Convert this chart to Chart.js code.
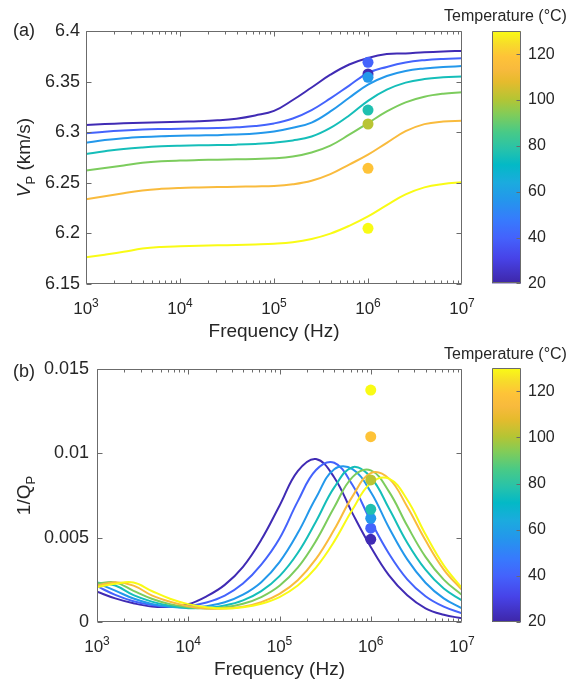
<!DOCTYPE html>
<html>
<head>
<meta charset="utf-8">
<script src="https://cdn.jsdelivr.net/npm/chart.js@4.4.1/dist/chart.umd.min.js"></script>
<style>
body { margin: 0; background: #fff; }
#wrap { position: relative; width: 571px; height: 685px; overflow: hidden; }
canvas { position: absolute; }
</style>
</head>
<body>
<div id="wrap">
  <canvas id="vpChart" width="480" height="345" style="left:0;top:0"></canvas>
  <canvas id="vpBar" width="131" height="300" style="left:440px;top:0"></canvas>
  <canvas id="qChart" width="480" height="345" style="left:0;top:340px"></canvas>
  <canvas id="qBar" width="131" height="300" style="left:440px;top:340px"></canvas>
</div>
<script>
// frequencies shared by all model curves (Hz)
const freqHz = [1000, 1585, 2512, 3981, 6310, 10000, 15849, 25119, 39811, 63096, 100000,
  158489, 251189, 398107, 630957, 1000000, 1584893, 2511886, 3981072, 6309573, 10000000];
const lineTempsC = [22, 40, 57, 75, 93, 114, 130];

// P-wave velocity (km/s)
const vp22 = [6.3071, 6.3080, 6.3088, 6.3094, 6.3099, 6.3104, 6.3108, 6.3117, 6.3134, 6.3166, 6.3210, 6.3318, 6.3442, 6.3568, 6.3669, 6.3734, 6.3772, 6.3778, 6.3790, 6.3798, 6.3803];
const vp40 = [6.2989, 6.3005, 6.3017, 6.3026, 6.3031, 6.3034, 6.3038, 6.3041, 6.3048, 6.3061, 6.3087, 6.3135, 6.3218, 6.3334, 6.3461, 6.3585, 6.3645, 6.3689, 6.3712, 6.3724, 6.3730];
const vp57 = [6.2896, 6.2922, 6.2940, 6.2952, 6.2960, 6.2965, 6.2968, 6.2971, 6.2978, 6.2987, 6.3007, 6.3044, 6.3095, 6.3205, 6.3340, 6.3470, 6.3555, 6.3605, 6.3630, 6.3645, 6.3653];
const vp75 = [6.2785, 6.2812, 6.2835, 6.2850, 6.2860, 6.2866, 6.2870, 6.2873, 6.2877, 6.2884, 6.2896, 6.2918, 6.2957, 6.3042, 6.3165, 6.3310, 6.3420, 6.3490, 6.3525, 6.3542, 6.3550];
const vp93 = [6.2622, 6.2646, 6.2672, 6.2697, 6.2712, 6.2720, 6.2725, 6.2729, 6.2732, 6.2736, 6.2742, 6.2760, 6.2800, 6.2868, 6.2975, 6.3090, 6.3205, 6.3295, 6.3350, 6.3380, 6.3395];
const vp114 = [6.2338, 6.2366, 6.2396, 6.2424, 6.2440, 6.2449, 6.2454, 6.2458, 6.2461, 6.2464, 6.2468, 6.2485, 6.2520, 6.2585, 6.2680, 6.2778, 6.2895, 6.3010, 6.3080, 6.3105, 6.3113];
const vp130 = [6.1764, 6.1790, 6.1818, 6.1850, 6.1866, 6.1873, 6.1878, 6.1882, 6.1886, 6.1891, 6.1898, 6.1913, 6.1945, 6.1998, 6.2075, 6.2168, 6.2280, 6.2385, 6.2455, 6.2488, 6.2505];

// attenuation 1/Qp
const q22 = [0.00180, 0.00140, 0.00111, 0.00092, 0.00090, 0.00105, 0.00152, 0.00220, 0.00327, 0.00487, 0.00689, 0.00894, 0.00966, 0.00857, 0.00644, 0.00445, 0.00276, 0.00158, 0.00081, 0.00043, 0.00022];
const q40 = [0.00212, 0.00161, 0.00123, 0.00100, 0.00090, 0.00095, 0.00116, 0.00157, 0.00228, 0.00340, 0.00495, 0.00715, 0.00901, 0.00944, 0.00812, 0.00599, 0.00405, 0.00253, 0.00153, 0.00091, 0.00052];
const q57 = [0.00230, 0.00186, 0.00139, 0.00107, 0.00090, 0.00084, 0.00093, 0.00117, 0.00162, 0.00236, 0.00355, 0.00527, 0.00736, 0.00906, 0.00906, 0.00771, 0.00559, 0.00371, 0.00233, 0.00140, 0.00081];
const q75 = [0.00235, 0.00216, 0.00159, 0.00121, 0.00096, 0.00082, 0.00084, 0.00098, 0.00128, 0.00183, 0.00272, 0.00409, 0.00596, 0.00798, 0.00918, 0.00858, 0.00673, 0.00470, 0.00310, 0.00198, 0.00128];
const q93 = [0.00228, 0.00235, 0.00185, 0.00138, 0.00106, 0.00087, 0.00080, 0.00087, 0.00108, 0.00148, 0.00215, 0.00322, 0.00481, 0.00680, 0.00859, 0.00899, 0.00773, 0.00570, 0.00386, 0.00251, 0.00160];
const q114 = [0.00216, 0.00236, 0.00216, 0.00158, 0.00120, 0.00094, 0.00080, 0.00080, 0.00091, 0.00118, 0.00167, 0.00248, 0.00374, 0.00548, 0.00745, 0.00883, 0.00850, 0.00683, 0.00484, 0.00311, 0.00190];
const q130 = [0.00206, 0.00227, 0.00234, 0.00184, 0.00138, 0.00106, 0.00087, 0.00080, 0.00087, 0.00108, 0.00148, 0.00216, 0.00323, 0.00478, 0.00667, 0.00824, 0.00850, 0.00725, 0.00520, 0.00336, 0.00201];

// measured points at 1 MHz
const dotFreqHz = 1000000;
const dotTempsC = [22, 40, 57, 77, 101, 119, 130];
const vpDots = [6.3575, 6.3691, 6.3542, 6.3219, 6.3081, 6.2643, 6.2050];
const qDots = [0.00490, 0.00556, 0.00615, 0.00668, 0.00842, 0.01099, 0.01375];

// ticks
const freqTicks = [1e3, 1e4, 1e5, 1e6, 1e7];
const vpTicks = [6.15, 6.2, 6.25, 6.3, 6.35, 6.4];
const qTicks = [0, 0.005, 0.01, 0.015];
const tempTicks = [20, 40, 60, 80, 100, 120];
const tempRange = [20, 130];

const fam = '"Liberation Sans", Arial, Helvetica, sans-serif';
Chart.defaults.font.family = fam;
Chart.defaults.color = '#262626';

const parulaStops = [
  [0.00, [62, 38, 168]], [0.10, [71, 67, 232]], [0.18, [68, 98, 252]], [0.25, [55, 122, 253]],
  [0.33, [36, 150, 236]], [0.40, [27, 171, 222]], [0.47, [3, 185, 198]], [0.53, [38, 194, 171]],
  [0.60, [72, 202, 135]], [0.67, [129, 204, 89]], [0.73, [180, 197, 52]], [0.80, [230, 187, 45]],
  [0.85, [248, 186, 61]], [0.90, [254, 195, 56]], [0.95, [247, 220, 42]], [1.00, [249, 251, 21]]
];

function parula(tempC) {
  const t = Math.min(1, Math.max(0, (tempC - tempRange[0]) / (tempRange[1] - tempRange[0])));
  for (let i = 1; i < parulaStops.length; i++) {
    const [t1, c1] = parulaStops[i];
    if (t <= t1) {
      const [t0, c0] = parulaStops[i - 1];
      const f = (t - t0) / (t1 - t0);
      const c = c0.map((v, k) => Math.round(v + (c1[k] - v) * f));
      return `rgb(${c[0]},${c[1]},${c[2]})`;
    }
  }
  return 'rgb(249,251,21)';
}

function parulaFill(chart) {
  if (!chart.chartArea) return 'transparent';
  const y = chart.scales.y;
  const g = chart.ctx.createLinearGradient(0, y.getPixelForValue(tempRange[0]), 0, y.getPixelForValue(tempRange[1]));
  parulaStops.forEach(([t, c]) => g.addColorStop(t, `rgb(${c.join(',')})`));
  return g;
}

// matlab style box with inward ticks
const boxAxes = {
  id: 'boxAxes',
  afterDatasetsDraw(chart, args, opts) {
    const { ctx, chartArea: a, scales } = chart;
    const L = Math.round(a.left) + 0.5, R = Math.round(a.right) - 0.5;
    const T = Math.round(a.top) + 0.5, B = Math.round(a.bottom) - 0.5;
    ctx.save();
    ctx.strokeStyle = '#6b6b6b';
    ctx.lineWidth = 1;
    ctx.beginPath();
    ctx.rect(L, T, R - L, B - T);
    if (opts.logX) {
      freqTicks.slice(0, -1).forEach(d => {
        for (let k = 1; k <= 9; k++) {
          const x = Math.round(scales.x.getPixelForValue(k * d)) + 0.5;
          const len = k === 1 ? 5 : 3;
          ctx.moveTo(x, B); ctx.lineTo(x, B - len);
          ctx.moveTo(x, T); ctx.lineTo(x, T + len);
        }
      });
    }
    scales.y.ticks.forEach(t => {
      const y = Math.round(scales.y.getPixelForValue(t.value)) + 0.5;
      if (opts.leftTicks) { ctx.moveTo(L, y); ctx.lineTo(L + 5, y); }
      ctx.moveTo(R, y); ctx.lineTo(R - (opts.leftTicks ? 5 : 4), y);
    });
    ctx.stroke();
    ctx.restore();
  }
};

// panel letter, 10^n tick labels and y title with subscript
const axisText = {
  id: 'axisText',
  afterDraw(chart, args, o) {
    if (!o.panel) return;
    const { ctx, chartArea: a, scales } = chart;
    ctx.save();
    ctx.fillStyle = '#262626';
    ctx.font = '18px ' + fam;
    ctx.textBaseline = 'middle';
    ctx.textAlign = 'left';
    ctx.fillText(o.panel, 13, o.panelY);

    ctx.textBaseline = 'alphabetic';
    const base = a.bottom + 29.5;
    freqTicks.forEach(v => {
      const exp = String(Math.round(Math.log10(v)));
      ctx.font = '17px ' + fam; const wb = ctx.measureText('10').width;
      ctx.font = '12px ' + fam; const we = ctx.measureText(exp).width;
      const x0 = scales.x.getPixelForValue(v) - (wb + we) / 2;
      ctx.font = '17px ' + fam; ctx.fillText('10', x0, base);
      ctx.font = '12px ' + fam; ctx.fillText(exp, x0 + wb, base - 7);
    });

    ctx.translate(o.titleX, o.titleY);
    ctx.rotate(-Math.PI / 2);
    const big = (o.italic ? 'italic ' : '') + '19px ' + fam;
    const plain = '19px ' + fam;
    const small = '13px ' + fam;
    ctx.font = big; const w1 = ctx.measureText(o.main).width;
    ctx.font = small; const w2 = ctx.measureText(o.sub).width;
    ctx.font = plain; const w3 = ctx.measureText(o.rest).width;
    let x = -(w1 + w2 + w3) / 2;
    ctx.font = big; ctx.fillText(o.main, x, 7); x += w1;
    ctx.font = small; ctx.fillText(o.sub, x, 12); x += w2;
    ctx.font = plain; ctx.fillText(o.rest, x, 7);
    ctx.restore();
  }
};

Chart.register(boxAxes, axisText);

function freqChart(id, series, dots, yTicks, yWidth, yPad, topPad, xHeight, titlePad, text) {
  const datasets = series.map((vals, i) => ({
    data: vals.map((v, j) => ({ x: freqHz[j], y: v })),
    borderColor: parula(lineTempsC[i]),
    borderWidth: 2,
    pointRadius: 0,
    tension: 0.4,
    fill: false,
    order: 10 - i
  }));
  datasets.push({
    type: 'scatter',
    data: dots.map(v => ({ x: dotFreqHz, y: v })),
    backgroundColor: dotTempsC.map(parula),
    pointBackgroundColor: dotTempsC.map(parula),
    borderWidth: 0,
    pointBorderWidth: 0,
    pointRadius: 5.5,
    order: 0
  });
  return new Chart(document.getElementById(id), {
    type: 'line',
    data: { datasets },
    options: {
      responsive: false,
      animation: false,
      events: [],
      layout: { padding: { top: topPad, right: 18, left: 0, bottom: 0 } },
      plugins: {
        legend: { display: false },
        tooltip: { enabled: false },
        boxAxes: { logX: true, leftTicks: true },
        axisText: text
      },
      scales: {
        x: {
          type: 'logarithmic',
          min: freqTicks[0],
          max: freqTicks[freqTicks.length - 1],
          afterBuildTicks: s => { s.ticks = freqTicks.map(v => ({ value: v })); },
          afterFit: s => { s.height = xHeight; },
          ticks: { display: false },
          grid: { display: false, drawTicks: false },
          border: { display: false },
          title: { display: true, text: 'Frequency (Hz)', font: { size: 19, lineHeight: 1 }, padding: { top: 0, bottom: titlePad } }
        },
        y: {
          min: yTicks[0],
          max: yTicks[yTicks.length - 1],
          afterBuildTicks: s => { s.ticks = yTicks.map(v => ({ value: v })); },
          afterFit: s => { s.width = yWidth; },
          ticks: { callback: v => String(v), padding: yPad, font: { size: 18 } },
          grid: { display: false, drawTicks: false },
          border: { display: false }
        }
      }
    }
  });
}

function tempBar(id, titleTop, titleBottom, bottomPad) {
  return new Chart(document.getElementById(id), {
    type: 'bar',
    data: {
      labels: [''],
      datasets: [{ data: [tempRange], backgroundColor: c => parulaFill(c.chart), borderWidth: 0, barPercentage: 1, categoryPercentage: 1 }]
    },
    options: {
      responsive: false,
      animation: false,
      events: [],
      layout: { padding: { bottom: bottomPad } },
      plugins: {
        legend: { display: false },
        tooltip: { enabled: false },
        title: { display: true, text: 'Temperature (°C)', color: '#262626', font: { size: 16, weight: 'normal' }, padding: { top: titleTop, bottom: titleBottom } },
        boxAxes: { logX: false, leftTicks: false }
      },
      scales: {
        x: { display: false },
        y: {
          position: 'right',
          min: tempRange[0],
          max: tempRange[1],
          afterBuildTicks: s => { s.ticks = tempTicks.map(v => ({ value: v })); },
          afterFit: s => { s.width = 50; },
          ticks: { padding: 7, font: { size: 16 } },
          grid: { display: false, drawTicks: false },
          border: { display: false }
        },
        gap: {
          type: 'linear',
          position: 'left',
          afterFit: s => { s.width = 52; },
          ticks: { display: false },
          grid: { display: false, drawTicks: false },
          border: { display: false }
        }
      }
    }
  });
}

freqChart('vpChart', [vp22, vp40, vp57, vp75, vp93, vp114, vp130], vpDots, vpTicks, 86, 6, 31, 61, 4,
  { panel: '(a)', panelY: 31, titleX: 23, titleY: 157.5, main: 'V', italic: true, sub: 'P', rest: ' (km/s)' });
freqChart('qChart', [q22, q40, q57, q75, q93, q114, q130], qDots, qTicks, 97, 8, 29, 63, 6,
  { panel: '(b)', panelY: 32, titleX: 23, titleY: 155.5, main: '1/Q', italic: false, sub: 'P', rest: '' });
tempBar('vpBar', 7, 5, 16);
tempBar('qBar', 5, 4, 18);
</script>
</body>
</html>
